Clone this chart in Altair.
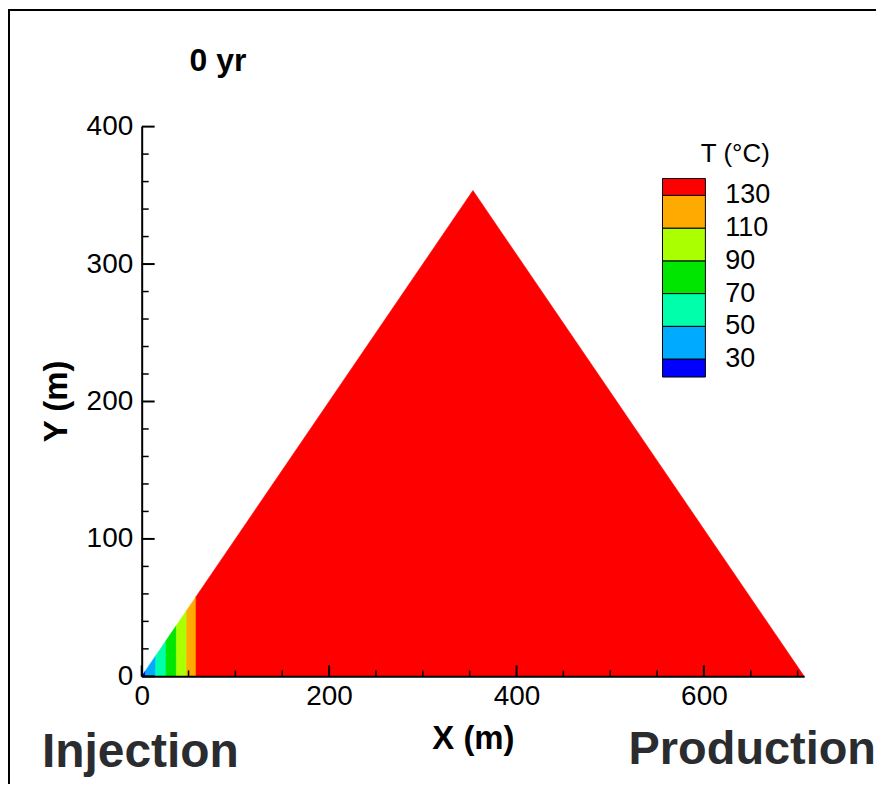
import altair as alt
import pandas as pd
import numpy as np

# ---- data ----
# triangle domain geometry (m)
tri_x = [0.0, 353.5, 707.0]
tri_y = [0.0, 353.5, 0.0]

# temperature bands (left edge along x, m); the last band runs to the right vertex
band_left = [0, 4, 15, 26, 37, 48, 58]
band_name = ["<30", "30-50", "50-70", "70-90", "90-110", "110-130", ">130"]
band_colors = ["#0000ff", "#00aaff", "#00ffaa", "#00e600", "#aaff00", "#ffaa00", "#ff0000"]

# colour bar
cb_levels = [30, 50, 70, 90, 110, 130]
cb_lo = [19, 30, 50, 70, 90, 110, 130]
cb_hi = [30, 50, 70, 90, 110, 130, 140.3]

# axes
x_ticks = [0, 200, 400, 600]
x_minor = [50, 100, 150, 250, 300, 350, 450, 500, 550, 650, 700]
y_ticks = [0, 100, 200, 300, 400]
y_minor = [20, 40, 60, 80, 120, 140, 160, 180, 220, 240, 260, 280, 320, 340, 360, 380]

annot = ["0  yr", "Injection", "Production"]

# ---- build tables ----
edges = band_left + [tri_x[-1]]
rows = []
for i in range(len(band_left)):
    a, b = edges[i], edges[i + 1]
    xs = [a] + [v for v in tri_x if a < v < b] + [b]
    for xv in xs:
        rows.append({"band": band_name[i], "x": xv,
                     "y": float(np.interp(xv, tri_x, tri_y)),
                     "color": band_colors[i]})
area_df = pd.DataFrame(rows)

W, H = 664, 551
FONT = "Liberation Sans"

xscale = alt.Scale(domain=[0, 707], nice=False, zero=False)
yscale = alt.Scale(domain=[0, 400], nice=False, zero=False)

xaxis = alt.Axis(values=x_ticks, ticks=False, tickSize=0, grid=False,
                 domainColor="black", domainWidth=2,
                 labelFont=FONT, labelFontSize=28, labelColor="black",
                 labelPadding=6, labelFlush=False, labelOverlap=False,
                 title="X (m)", titleFont=FONT, titleFontSize=33,
                 titleFontWeight="bold", titleColor="black",
                 titleX=W / 2, titleY=62, titleBaseline="middle", zindex=1)
yaxis = alt.Axis(values=y_ticks, ticks=False, tickSize=0, grid=False,
                 domainColor="black", domainWidth=2,
                 labelFont=FONT, labelFontSize=28, labelColor="black",
                 labelPadding=9, labelFlush=False, labelOverlap=False,
                 title="Y (m)", titleFont=FONT, titleFontSize=33,
                 titleFontWeight="bold", titleColor="black",
                 titleX=-85, titleY=275, titleBaseline="middle", zindex=1)

area = alt.Chart(area_df).mark_area(strokeWidth=0.6).encode(
    x=alt.X("x:Q", scale=xscale, axis=xaxis),
    y=alt.Y("y:Q", scale=yscale, axis=yaxis, stack=None),
    detail="band:N",
    color=alt.Color("color:N", scale=None),
    stroke=alt.Stroke("color:N", scale=None),
)

ymaj = alt.Chart(pd.DataFrame({"v": y_ticks})).mark_rule(color="black", strokeWidth=2).encode(
    y=alt.Y("v:Q", scale=yscale, axis=None), x=alt.value(0), x2=alt.value(13))
ymin = alt.Chart(pd.DataFrame({"v": y_minor})).mark_rule(color="black", strokeWidth=1.5).encode(
    y=alt.Y("v:Q", scale=yscale, axis=None), x=alt.value(0), x2=alt.value(7))
xmaj = alt.Chart(pd.DataFrame({"v": x_ticks})).mark_rule(color="black", strokeWidth=2).encode(
    x=alt.X("v:Q", scale=xscale, axis=xaxis), y=alt.value(H), y2=alt.value(H - 11))
xmin = alt.Chart(pd.DataFrame({"v": x_minor})).mark_rule(color="black", strokeWidth=1.5).encode(
    x=alt.X("v:Q", scale=xscale, axis=xaxis), y=alt.value(H), y2=alt.value(H - 6))

one = pd.DataFrame({"a": [0]})
t_yr = alt.Chart(pd.DataFrame({"t": [annot[0]]})).mark_text(
    font=FONT, fontSize=32, fontWeight="bold", color="black", align="left", baseline="alphabetic"
).encode(text="t:N", x=alt.value(48), y=alt.value(-56))
t_inj = alt.Chart(pd.DataFrame({"t": [annot[1]]})).mark_text(
    font=FONT, fontSize=48, fontWeight="bold", color="#2a2c30", align="left", baseline="alphabetic"
).encode(text="t:N", x=alt.value(-100), y=alt.value(642))
t_prod = alt.Chart(pd.DataFrame({"t": [annot[2]]})).mark_text(
    font=FONT, fontSize=47, fontWeight="bold", color="#2a2c30", align="right", baseline="alphabetic"
).encode(text="t:N", x=alt.value(736), y=alt.value(639))

frame_l = alt.Chart(one).mark_rule(color="black", strokeWidth=2).encode(
    x=alt.value(-133), y=alt.value(-118), y2=alt.value(720))
frame_t = alt.Chart(one).mark_rule(color="black", strokeWidth=2).encode(
    y=alt.value(-117), x=alt.value(-134), x2=alt.value(800))

cbscale = alt.Scale(domain=[19, 140.3], range=[251, 52], nice=False, zero=False)
cb_df = pd.DataFrame({"lo": cb_lo, "hi": cb_hi, "color": band_colors})
cb_rect = alt.Chart(cb_df).mark_rect(stroke="black", strokeWidth=1).encode(
    y=alt.Y("lo:Q", scale=cbscale, axis=None), y2="hi:Q",
    x=alt.value(522), x2=alt.value(565),
    color=alt.Color("color:N", scale=None))
cb_lab = alt.Chart(pd.DataFrame({"lev": cb_levels})).mark_text(
    font=FONT, fontSize=27, color="black", align="left", baseline="middle"
).encode(y=alt.Y("lev:Q", scale=cbscale, axis=None), x=alt.value(585), text="lev:Q")
cb_title = alt.Chart(pd.DataFrame({"t": ["T (°C)"]})).mark_text(
    font=FONT, fontSize=26, color="black", align="center", baseline="middle"
).encode(text="t:N", x=alt.value(595), y=alt.value(27))

chart = alt.layer(
    area, ymaj, ymin, xmaj, xmin, cb_rect, cb_lab, cb_title,
    t_yr, t_inj, t_prod, frame_l, frame_t,
).resolve_scale(y="independent").properties(
    width=W, height=H, autosize="none", background="white",
    padding={"left": 134, "top": 118, "right": 72, "bottom": 107},
).configure_view(stroke=None)

chart.save("out.html", embed_options={"renderer": "svg", "actions": False})
